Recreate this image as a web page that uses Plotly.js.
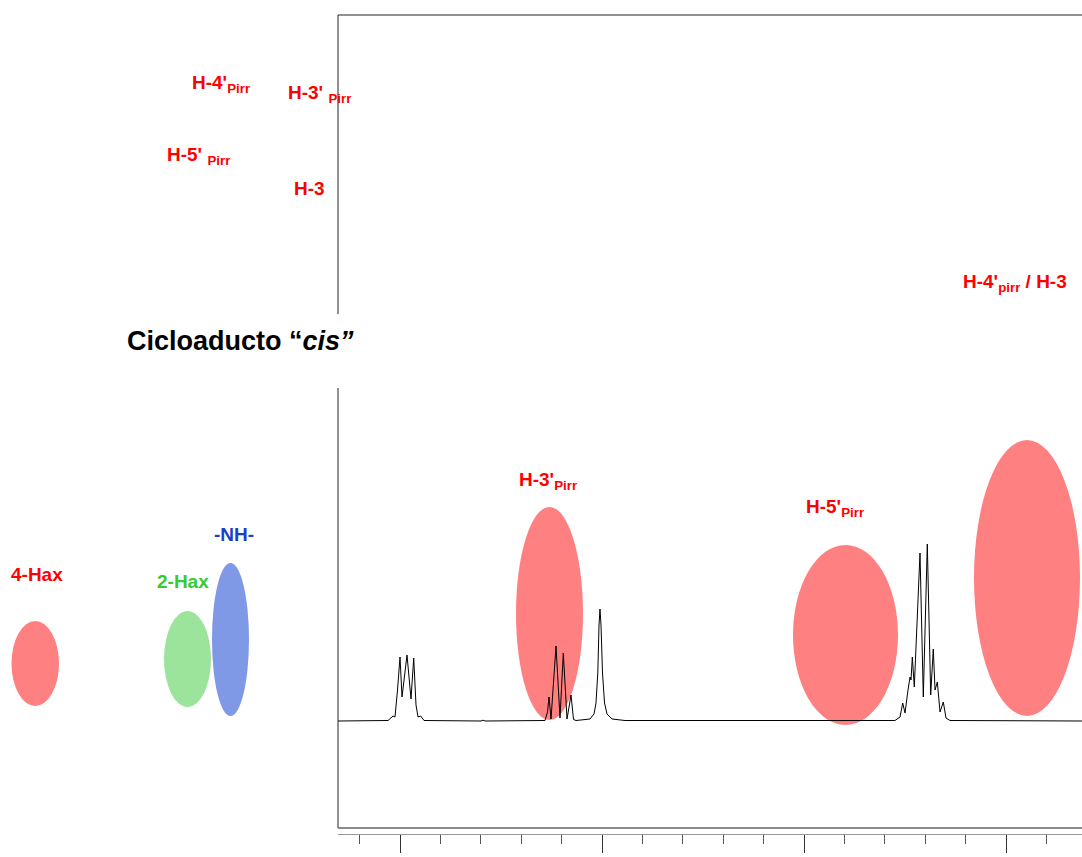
<!DOCTYPE html>
<html>
<head>
<meta charset="utf-8">
<script src="https://cdn.plot.ly/plotly-3.0.1.min.js"></script>
<style>html,body{margin:0;padding:0;background:#fff;overflow:hidden;}#chart{width:1082px;height:857px;}</style>
</head>
<body>
<div id="chart"></div>
<script>
// Spectrum: chemical shift (ppm) and intensity (arbitrary units)
const shiftPpm = [4.1535, 4.0297, 4.0173, 4.0124, 4.0062, 4.0000, 3.9950, 3.9827, 3.9728, 3.9661, 3.9604, 3.9554, 3.9488, 3.9406,
  3.7995, 3.7946, 3.7896,
  3.6411, 3.6349, 3.6312, 3.6262, 3.6139, 3.6040, 3.5958, 3.5866, 3.5767, 3.5705, 3.5644,
  3.5297, 3.5198, 3.5149, 3.5104, 3.5074, 3.5050, 3.5025, 3.4988, 3.4938, 3.4876, 3.4752, 3.4431,
  2.7748, 2.7624, 2.7557, 2.7500, 2.7426, 2.7376, 2.7351, 2.7319, 2.7270, 2.7129, 2.7047, 2.6948, 2.6864, 2.6800, 2.6757, 2.6700, 2.6634, 2.6552, 2.6485, 2.6386,
  2.3119];
const intensity = [0, 0.05, 0.5, 0.4, 3.1, 6.4, 2.4, 6.6, 2.2, 6.3, 1.6, 0.4, 0.5, 0.05,
  0, 0.08, 0,
  0.05, 0.9, 2.4, 0.2, 7.5, 0.3, 6.8, 0.2, 2.6, 0.15, 0.05,
  0.2, 0.7, 1.8, 4.8, 9.6, 11.2, 9.6, 4.8, 1.8, 0.7, 0.2, 0.05,
  0.05, 0.4, 1.8, 0.8, 3.1, 4.4, 4.1, 6.4, 3.4, 16.8, 2.4, 17.7, 2.6, 7.2, 3.1, 3.9, 0.9, 1.9, 0.3, 0.05,
  0];

// Labels
const titleText = 'Cicloaducto “<i>cis”</i>';
const redLabels = ["H-4'<sub>Pirr</sub>", "H-3' <sub>Pirr</sub>", "H-5' <sub>Pirr</sub>", "H-3", "H-4'<sub>pirr</sub> / H-3", "H-3'<sub>Pirr</sub>", "H-5'<sub>Pirr</sub>", "4-Hax"];
const greenLabel = '2-Hax';
const blueLabel = '-NH-';

const W = 1082, H = 857;
const px = x => x / W;
const py = y => 1 - y / H;
const FONT = 'Liberation Sans, Arial, Helvetica, sans-serif';
const RED = '#ff0000', GREEN = '#33cc33', BLUE = '#1a3fcc';
const E_RED = '#ff8080', E_GREEN = '#9ce49c', E_BLUE = '#8099e6';

function ann(text, x, y, color, size) {
  return {text: '<b>' + text + '</b>', x: px(x), y: py(y), xref: 'paper', yref: 'paper',
    xanchor: 'left', yanchor: 'middle', showarrow: false,
    font: {family: FONT, size: size || 19, color: color}};
}
function ell(x0, x1, y0, y1, color) {
  return {type: 'circle', xref: 'paper', yref: 'paper', x0: px(x0), x1: px(x1), y0: py(y1), y1: py(y0),
    fillcolor: color, line: {width: 0}, layer: 'below'};
}
function seg(x0, y0, x1, y1, color, w) {
  return {type: 'line', xref: 'paper', yref: 'paper', x0: px(x0), y0: py(y0), x1: px(x1), y1: py(y1),
    line: {color: color || '#222', width: w || 1}, layer: 'above'};
}

const trace = {x: shiftPpm, y: intensity, type: 'scatter', mode: 'lines',
  line: {color: '#000', width: 1}, hoverinfo: 'skip'};

const layout = {
  width: W, height: H,
  margin: {l: 0, r: 0, t: 0, b: 0},
  paper_bgcolor: '#fff', plot_bgcolor: 'rgba(0,0,0,0)',
  showlegend: false,
  xaxis: {domain: [338 / W, 1], range: [4.1535, 2.3119], autorange: false,
    showgrid: false, zeroline: false, showticklabels: false,
    showline: true, linecolor: '#999', linewidth: 1,
    ticks: 'outside', ticklen: 18, tickcolor: '#333', tickwidth: 1, tick0: 4.0, dtick: 0.5,
    minor: {dtick: 0.1, tick0: 4.0, ticks: 'outside', ticklen: 9, tickcolor: '#555', tickwidth: 1, showgrid: false}},
  yaxis: {domain: [23 / H, 842 / H], range: [-11.3, 70.6], autorange: false, visible: false},
  shapes: [
    ell(516, 583, 507, 720, E_RED),
    ell(793, 898, 545, 725, E_RED),
    ell(974, 1080, 440, 716, E_RED),
    ell(11.5, 59, 621, 706, E_RED),
    ell(164, 211, 611, 707, E_GREEN),
    ell(212, 249, 563, 716, E_BLUE),
    seg(338, 15, 1082, 15),
    seg(338, 15, 338, 314),
    seg(338, 388, 338, 828),
    seg(338, 828, 1082, 828, '#666', 1.5)
  ],
  annotations: [
    ann(titleText, 125, 341, '#000', 27),
    ann(redLabels[0], 190, 84, RED),
    ann(redLabels[1], 286, 94, RED),
    ann(redLabels[2], 165, 156, RED),
    ann(redLabels[3], 292, 188, RED),
    ann(redLabels[4], 961, 283, RED),
    ann(redLabels[5], 517, 481, RED),
    ann(redLabels[6], 804, 508, RED),
    ann(redLabels[7], 9, 574, RED),
    ann(greenLabel, 155, 581, GREEN),
    ann(blueLabel, 212, 534, BLUE)
  ]
};

Plotly.newPlot('chart', [trace], layout, {staticPlot: true, displayModeBar: false});
</script>
</body>
</html>
